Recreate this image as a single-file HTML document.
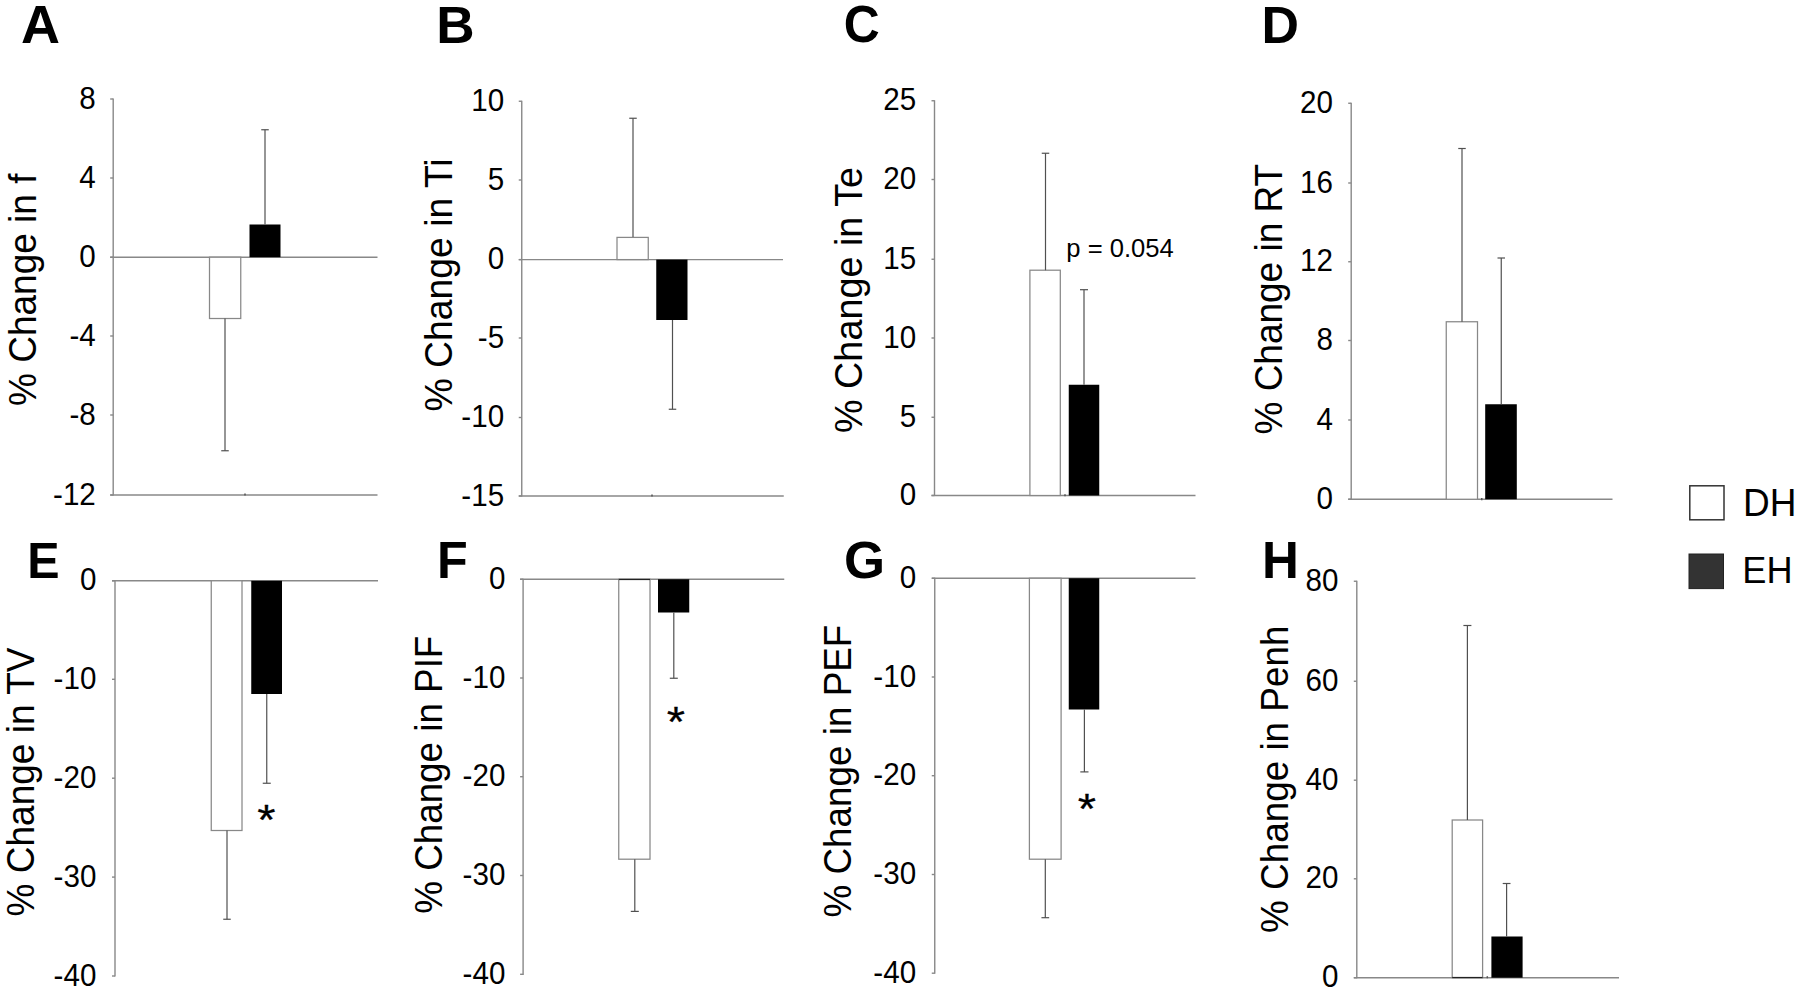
<!DOCTYPE html>
<html><head><meta charset="utf-8"><title>Figure</title>
<style>
html,body{margin:0;padding:0;background:#fff;}
body{width:1800px;height:992px;overflow:hidden;}
svg{display:block;font-family:"Liberation Sans",sans-serif;fill:#000;}
</style></head><body>
<svg width="1800" height="992" viewBox="0 0 1800 992">
<rect x="0" y="0" width="1800" height="992" fill="#fff"/>
<text transform="translate(20.95,42.70) scale(1.0806,1.0696)" font-size="50" font-weight="bold">A</text>
<line x1="113.2" y1="98.4" x2="113.2" y2="495.6" stroke="#888888" stroke-width="1.4"/>
<line x1="110.2" y1="99" x2="113.2" y2="99" stroke="#888888" stroke-width="1.4"/>
<text transform="translate(95.8,108.5) scale(1,1.04)" font-size="29.6" text-anchor="end" font-weight="normal" >8</text>
<line x1="110.2" y1="178" x2="113.2" y2="178" stroke="#888888" stroke-width="1.4"/>
<text transform="translate(95.8,187.5) scale(1,1.04)" font-size="29.6" text-anchor="end" font-weight="normal" >4</text>
<line x1="110.2" y1="257.2" x2="113.2" y2="257.2" stroke="#888888" stroke-width="1.4"/>
<text transform="translate(95.8,266.7) scale(1,1.04)" font-size="29.6" text-anchor="end" font-weight="normal" >0</text>
<line x1="110.2" y1="336" x2="113.2" y2="336" stroke="#888888" stroke-width="1.4"/>
<text transform="translate(95.8,345.5) scale(1,1.04)" font-size="29.6" text-anchor="end" font-weight="normal" >-4</text>
<line x1="110.2" y1="415" x2="113.2" y2="415" stroke="#888888" stroke-width="1.4"/>
<text transform="translate(95.8,424.5) scale(1,1.04)" font-size="29.6" text-anchor="end" font-weight="normal" >-8</text>
<line x1="110.2" y1="495" x2="113.2" y2="495" stroke="#888888" stroke-width="1.4"/>
<text transform="translate(95.8,504.5) scale(1,1.04)" font-size="29.6" text-anchor="end" font-weight="normal" >-12</text>
<line x1="110.2" y1="257.2" x2="377.5" y2="257.2" stroke="#888888" stroke-width="1.4"/>
<rect x="209.5" y="257.2" width="31.25" height="61.30000000000001" fill="#fff" stroke="#888888" stroke-width="1.25"/>
<rect x="249.5" y="224.5" width="31.0" height="32.69999999999999" fill="#000"/>
<line x1="225" y1="318.5" x2="225" y2="450.75" stroke="#505050" stroke-width="1.2"/>
<line x1="221.25" y1="450.75" x2="228.75" y2="450.75" stroke="#505050" stroke-width="1.2"/>
<line x1="265" y1="224.5" x2="265" y2="129.75" stroke="#505050" stroke-width="1.2"/>
<line x1="261.25" y1="129.75" x2="268.75" y2="129.75" stroke="#505050" stroke-width="1.2"/>
<text transform="translate(36,405.98) rotate(-90) scale(1,1.04)" font-size="37.02">% Change in f</text>
<line x1="110.2" y1="495" x2="377.5" y2="495" stroke="#888888" stroke-width="1.4"/>
<line x1="245" y1="493.6" x2="245" y2="495.4" stroke="#555" stroke-width="1.5"/>
<text transform="translate(436.35,42.70) scale(1.0623,1.0174)" font-size="50" font-weight="bold">B</text>
<line x1="521.75" y1="100.65" x2="521.75" y2="496.6" stroke="#888888" stroke-width="1.4"/>
<line x1="518.75" y1="101.25" x2="521.75" y2="101.25" stroke="#888888" stroke-width="1.4"/>
<text transform="translate(504.1,110.75) scale(1,1.04)" font-size="29.6" text-anchor="end" font-weight="normal" >10</text>
<line x1="518.75" y1="180" x2="521.75" y2="180" stroke="#888888" stroke-width="1.4"/>
<text transform="translate(504.1,189.5) scale(1,1.04)" font-size="29.6" text-anchor="end" font-weight="normal" >5</text>
<line x1="518.75" y1="259.6" x2="521.75" y2="259.6" stroke="#888888" stroke-width="1.4"/>
<text transform="translate(504.1,269.1) scale(1,1.04)" font-size="29.6" text-anchor="end" font-weight="normal" >0</text>
<line x1="518.75" y1="338" x2="521.75" y2="338" stroke="#888888" stroke-width="1.4"/>
<text transform="translate(504.1,347.5) scale(1,1.04)" font-size="29.6" text-anchor="end" font-weight="normal" >-5</text>
<line x1="518.75" y1="417.5" x2="521.75" y2="417.5" stroke="#888888" stroke-width="1.4"/>
<text transform="translate(504.1,427.0) scale(1,1.04)" font-size="29.6" text-anchor="end" font-weight="normal" >-10</text>
<line x1="518.75" y1="496" x2="521.75" y2="496" stroke="#888888" stroke-width="1.4"/>
<text transform="translate(504.1,505.5) scale(1,1.04)" font-size="29.6" text-anchor="end" font-weight="normal" >-15</text>
<line x1="518.75" y1="259.6" x2="783" y2="259.6" stroke="#888888" stroke-width="1.4"/>
<rect x="617" y="237.4" width="31.25" height="22.200000000000017" fill="#fff" stroke="#888888" stroke-width="1.25"/>
<rect x="656.25" y="259.6" width="31.25" height="60.39999999999998" fill="#000"/>
<line x1="633" y1="237" x2="633" y2="118.25" stroke="#505050" stroke-width="1.2"/>
<line x1="629.25" y1="118.25" x2="636.75" y2="118.25" stroke="#505050" stroke-width="1.2"/>
<line x1="672.5" y1="320" x2="672.5" y2="409.25" stroke="#505050" stroke-width="1.2"/>
<line x1="668.75" y1="409.25" x2="676.25" y2="409.25" stroke="#505050" stroke-width="1.2"/>
<text transform="translate(452.2,411.59) rotate(-90) scale(1,1.04)" font-size="37.35">% Change in Ti</text>
<line x1="518.75" y1="496" x2="783.75" y2="496" stroke="#888888" stroke-width="1.4"/>
<line x1="652" y1="494.6" x2="652" y2="496.4" stroke="#555" stroke-width="1.5"/>
<text transform="translate(843.81,42.48) scale(0.9969,1.0394)" font-size="50" font-weight="bold">C</text>
<line x1="934.5" y1="100.15" x2="934.5" y2="496.1" stroke="#888888" stroke-width="1.4"/>
<line x1="931.5" y1="100.75" x2="934.5" y2="100.75" stroke="#888888" stroke-width="1.4"/>
<text transform="translate(916.1,110.25) scale(1,1.04)" font-size="29.6" text-anchor="end" font-weight="normal" >25</text>
<line x1="931.5" y1="179.5" x2="934.5" y2="179.5" stroke="#888888" stroke-width="1.4"/>
<text transform="translate(916.1,189.0) scale(1,1.04)" font-size="29.6" text-anchor="end" font-weight="normal" >20</text>
<line x1="931.5" y1="259.25" x2="934.5" y2="259.25" stroke="#888888" stroke-width="1.4"/>
<text transform="translate(916.1,268.75) scale(1,1.04)" font-size="29.6" text-anchor="end" font-weight="normal" >15</text>
<line x1="931.5" y1="338" x2="934.5" y2="338" stroke="#888888" stroke-width="1.4"/>
<text transform="translate(916.1,347.5) scale(1,1.04)" font-size="29.6" text-anchor="end" font-weight="normal" >10</text>
<line x1="931.5" y1="417.25" x2="934.5" y2="417.25" stroke="#888888" stroke-width="1.4"/>
<text transform="translate(916.1,426.75) scale(1,1.04)" font-size="29.6" text-anchor="end" font-weight="normal" >5</text>
<line x1="931.5" y1="495.5" x2="934.5" y2="495.5" stroke="#888888" stroke-width="1.4"/>
<text transform="translate(916.1,505.0) scale(1,1.04)" font-size="29.6" text-anchor="end" font-weight="normal" >0</text>
<line x1="931.5" y1="495.5" x2="1195.5" y2="495.5" stroke="#888888" stroke-width="1.4"/>
<rect x="1029.9" y="270.2" width="30.399999999999864" height="225.3" fill="#fff" stroke="#888888" stroke-width="1.25"/>
<rect x="1068.75" y="384.75" width="30.5" height="110.75" fill="#000"/>
<line x1="1045.5" y1="270.2" x2="1045.5" y2="153.25" stroke="#505050" stroke-width="1.2"/>
<line x1="1041.75" y1="153.25" x2="1049.25" y2="153.25" stroke="#505050" stroke-width="1.2"/>
<line x1="1084" y1="384.75" x2="1084" y2="289.7" stroke="#505050" stroke-width="1.2"/>
<line x1="1080.0" y1="289.7" x2="1088.0" y2="289.7" stroke="#505050" stroke-width="1.2"/>
<text transform="translate(861.5,433.01) rotate(-90) scale(1,1.04)" font-size="37.79">% Change in Te</text>
<line x1="1065" y1="494.2" x2="1065" y2="496.3" stroke="#555" stroke-width="1.5"/>
<text transform="translate(1066.3,257) scale(1,1.04)" font-size="25.6" text-anchor="start" font-weight="normal" >p = 0.054</text>
<text transform="translate(1261.43,42.70) scale(1.0374,1.0261)" font-size="50" font-weight="bold">D</text>
<line x1="1351.2" y1="102.65" x2="1351.2" y2="499.85" stroke="#888888" stroke-width="1.4"/>
<line x1="1348.2" y1="103.25" x2="1351.2" y2="103.25" stroke="#888888" stroke-width="1.4"/>
<text transform="translate(1332.9,112.75) scale(1,1.04)" font-size="29.6" text-anchor="end" font-weight="normal" >20</text>
<line x1="1348.2" y1="183" x2="1351.2" y2="183" stroke="#888888" stroke-width="1.4"/>
<text transform="translate(1332.9,192.5) scale(1,1.04)" font-size="29.6" text-anchor="end" font-weight="normal" >16</text>
<line x1="1348.2" y1="261.75" x2="1351.2" y2="261.75" stroke="#888888" stroke-width="1.4"/>
<text transform="translate(1332.9,271.25) scale(1,1.04)" font-size="29.6" text-anchor="end" font-weight="normal" >12</text>
<line x1="1348.2" y1="340.5" x2="1351.2" y2="340.5" stroke="#888888" stroke-width="1.4"/>
<text transform="translate(1332.9,350.0) scale(1,1.04)" font-size="29.6" text-anchor="end" font-weight="normal" >8</text>
<line x1="1348.2" y1="420" x2="1351.2" y2="420" stroke="#888888" stroke-width="1.4"/>
<text transform="translate(1332.9,429.5) scale(1,1.04)" font-size="29.6" text-anchor="end" font-weight="normal" >4</text>
<line x1="1348.2" y1="499.25" x2="1351.2" y2="499.25" stroke="#888888" stroke-width="1.4"/>
<text transform="translate(1332.9,508.75) scale(1,1.04)" font-size="29.6" text-anchor="end" font-weight="normal" >0</text>
<line x1="1348.2" y1="499.25" x2="1612.5" y2="499.25" stroke="#888888" stroke-width="1.4"/>
<rect x="1446.25" y="321.75" width="31.25" height="177.5" fill="#fff" stroke="#888888" stroke-width="1.25"/>
<rect x="1485.2" y="404.25" width="31.59999999999991" height="95.0" fill="#000"/>
<line x1="1462" y1="321.75" x2="1462" y2="148.5" stroke="#505050" stroke-width="1.2"/>
<line x1="1458.25" y1="148.5" x2="1465.75" y2="148.5" stroke="#505050" stroke-width="1.2"/>
<line x1="1501.25" y1="404.25" x2="1501.25" y2="258" stroke="#505050" stroke-width="1.2"/>
<line x1="1497.5" y1="258" x2="1505.0" y2="258" stroke="#505050" stroke-width="1.2"/>
<text transform="translate(1282,434.48) rotate(-90) scale(1,1.04)" font-size="36.98">% Change in RT</text>
<line x1="1481.75" y1="498" x2="1481.75" y2="500.2" stroke="#555" stroke-width="1.5"/>
<text transform="translate(27.15,577.70) scale(0.9699,1.0116)" font-size="50" font-weight="bold">E</text>
<line x1="115" y1="580.1999999999999" x2="115" y2="976.6" stroke="#888888" stroke-width="1.4"/>
<line x1="112" y1="580.8" x2="115" y2="580.8" stroke="#888888" stroke-width="1.4"/>
<text transform="translate(96.4,590.3) scale(1,1.04)" font-size="29.6" text-anchor="end" font-weight="normal" >0</text>
<line x1="112" y1="679.3" x2="115" y2="679.3" stroke="#888888" stroke-width="1.4"/>
<text transform="translate(96.4,688.8) scale(1,1.04)" font-size="29.6" text-anchor="end" font-weight="normal" >-10</text>
<line x1="112" y1="778.2" x2="115" y2="778.2" stroke="#888888" stroke-width="1.4"/>
<text transform="translate(96.4,787.7) scale(1,1.04)" font-size="29.6" text-anchor="end" font-weight="normal" >-20</text>
<line x1="112" y1="877.1" x2="115" y2="877.1" stroke="#888888" stroke-width="1.4"/>
<text transform="translate(96.4,886.6) scale(1,1.04)" font-size="29.6" text-anchor="end" font-weight="normal" >-30</text>
<line x1="112" y1="976" x2="115" y2="976" stroke="#888888" stroke-width="1.4"/>
<text transform="translate(96.4,985.5) scale(1,1.04)" font-size="29.6" text-anchor="end" font-weight="normal" >-40</text>
<line x1="112" y1="580.8" x2="378" y2="580.8" stroke="#888888" stroke-width="1.4"/>
<rect x="211.25" y="580.8" width="30.75" height="249.70000000000005" fill="#fff" stroke="#888888" stroke-width="1.25"/>
<rect x="251.25" y="580.8" width="30.75" height="113.20000000000005" fill="#000"/>
<line x1="227" y1="830.5" x2="227" y2="919.25" stroke="#505050" stroke-width="1.2"/>
<line x1="223.25" y1="919.25" x2="230.75" y2="919.25" stroke="#505050" stroke-width="1.2"/>
<line x1="266.75" y1="694" x2="266.75" y2="783.25" stroke="#505050" stroke-width="1.2"/>
<line x1="262.75" y1="783.25" x2="270.75" y2="783.25" stroke="#505050" stroke-width="1.2"/>
<text transform="translate(33.5,916.48) rotate(-90) scale(1,1.04)" font-size="37.05">% Change in TV</text>
<text transform="translate(257.13,834.43) scale(1,0.91)" font-size="47" stroke="#000" stroke-width="0.3">*</text>
<text transform="translate(437.03,577.95) scale(1.0059,1.0190)" font-size="50" font-weight="bold">F</text>
<line x1="523.1" y1="578.65" x2="523.1" y2="974.9" stroke="#888888" stroke-width="1.4"/>
<line x1="520.1" y1="579.25" x2="523.1" y2="579.25" stroke="#888888" stroke-width="1.4"/>
<text transform="translate(505.4,588.75) scale(1,1.04)" font-size="29.6" text-anchor="end" font-weight="normal" >0</text>
<line x1="520.1" y1="678" x2="523.1" y2="678" stroke="#888888" stroke-width="1.4"/>
<text transform="translate(505.4,687.5) scale(1,1.04)" font-size="29.6" text-anchor="end" font-weight="normal" >-10</text>
<line x1="520.1" y1="776.7" x2="523.1" y2="776.7" stroke="#888888" stroke-width="1.4"/>
<text transform="translate(505.4,786.2) scale(1,1.04)" font-size="29.6" text-anchor="end" font-weight="normal" >-20</text>
<line x1="520.1" y1="875.5" x2="523.1" y2="875.5" stroke="#888888" stroke-width="1.4"/>
<text transform="translate(505.4,885.0) scale(1,1.04)" font-size="29.6" text-anchor="end" font-weight="normal" >-30</text>
<line x1="520.1" y1="974.3" x2="523.1" y2="974.3" stroke="#888888" stroke-width="1.4"/>
<text transform="translate(505.4,983.8) scale(1,1.04)" font-size="29.6" text-anchor="end" font-weight="normal" >-40</text>
<line x1="520.1" y1="579.25" x2="784.25" y2="579.25" stroke="#888888" stroke-width="1.4"/>
<rect x="618.75" y="579.25" width="31.25" height="279.95000000000005" fill="#fff" stroke="#888888" stroke-width="1.25"/>
<rect x="658" y="579.25" width="31.25" height="33.25" fill="#000"/>
<line x1="634.8" y1="859.2" x2="634.8" y2="911.4" stroke="#505050" stroke-width="1.2"/>
<line x1="630.8" y1="911.4" x2="638.8" y2="911.4" stroke="#505050" stroke-width="1.2"/>
<line x1="673.8" y1="612.5" x2="673.8" y2="678.25" stroke="#505050" stroke-width="1.2"/>
<line x1="669.8" y1="678.25" x2="677.8" y2="678.25" stroke="#505050" stroke-width="1.2"/>
<text transform="translate(441.8,913.77) rotate(-90) scale(1,1.04)" font-size="36.80">% Change in PIF</text>
<line x1="618.75" y1="579.5" x2="650" y2="579.5" stroke="#222" stroke-width="1.2"/>
<text transform="translate(666.84,736.03) scale(1,0.91)" font-size="47" stroke="#000" stroke-width="0.3">*</text>
<text transform="translate(843.94,577.88) scale(1.0563,1.0338)" font-size="50" font-weight="bold">G</text>
<line x1="934.75" y1="577.65" x2="934.75" y2="973.8000000000001" stroke="#888888" stroke-width="1.4"/>
<line x1="931.75" y1="578.25" x2="934.75" y2="578.25" stroke="#888888" stroke-width="1.4"/>
<text transform="translate(916.1,587.75) scale(1,1.04)" font-size="29.6" text-anchor="end" font-weight="normal" >0</text>
<line x1="931.75" y1="677" x2="934.75" y2="677" stroke="#888888" stroke-width="1.4"/>
<text transform="translate(916.1,686.5) scale(1,1.04)" font-size="29.6" text-anchor="end" font-weight="normal" >-10</text>
<line x1="931.75" y1="775.7" x2="934.75" y2="775.7" stroke="#888888" stroke-width="1.4"/>
<text transform="translate(916.1,785.2) scale(1,1.04)" font-size="29.6" text-anchor="end" font-weight="normal" >-20</text>
<line x1="931.75" y1="874.5" x2="934.75" y2="874.5" stroke="#888888" stroke-width="1.4"/>
<text transform="translate(916.1,884.0) scale(1,1.04)" font-size="29.6" text-anchor="end" font-weight="normal" >-30</text>
<line x1="931.75" y1="973.2" x2="934.75" y2="973.2" stroke="#888888" stroke-width="1.4"/>
<text transform="translate(916.1,982.7) scale(1,1.04)" font-size="29.6" text-anchor="end" font-weight="normal" >-40</text>
<line x1="931.75" y1="578.25" x2="1195.5" y2="578.25" stroke="#888888" stroke-width="1.4"/>
<rect x="1029.4" y="578.25" width="31.699999999999818" height="280.95000000000005" fill="#fff" stroke="#888888" stroke-width="1.25"/>
<rect x="1068.75" y="578.25" width="30.5" height="131.25" fill="#000"/>
<line x1="1045.3" y1="859.2" x2="1045.3" y2="917.7" stroke="#505050" stroke-width="1.2"/>
<line x1="1041.45" y1="917.7" x2="1049.1499999999999" y2="917.7" stroke="#505050" stroke-width="1.2"/>
<line x1="1084.4" y1="709.5" x2="1084.4" y2="771.9" stroke="#505050" stroke-width="1.2"/>
<line x1="1080.3000000000002" y1="771.9" x2="1088.5" y2="771.9" stroke="#505050" stroke-width="1.2"/>
<text transform="translate(850.5,917.47) rotate(-90) scale(1,1.04)" font-size="36.85">% Change in PEF</text>
<text transform="translate(1077.63,823.13) scale(1,0.91)" font-size="47" stroke="#000" stroke-width="0.3">*</text>
<text transform="translate(1261.98,577.90) scale(1.0220,1.0174)" font-size="50" font-weight="bold">H</text>
<line x1="1356.8" y1="580.65" x2="1356.8" y2="978.3000000000001" stroke="#888888" stroke-width="1.4"/>
<line x1="1353.8" y1="581.25" x2="1356.8" y2="581.25" stroke="#888888" stroke-width="1.4"/>
<text transform="translate(1338.4,590.75) scale(1,1.04)" font-size="29.6" text-anchor="end" font-weight="normal" >80</text>
<line x1="1353.8" y1="681.25" x2="1356.8" y2="681.25" stroke="#888888" stroke-width="1.4"/>
<text transform="translate(1338.4,690.75) scale(1,1.04)" font-size="29.6" text-anchor="end" font-weight="normal" >60</text>
<line x1="1353.8" y1="780.2" x2="1356.8" y2="780.2" stroke="#888888" stroke-width="1.4"/>
<text transform="translate(1338.4,789.7) scale(1,1.04)" font-size="29.6" text-anchor="end" font-weight="normal" >40</text>
<line x1="1353.8" y1="878.8" x2="1356.8" y2="878.8" stroke="#888888" stroke-width="1.4"/>
<text transform="translate(1338.4,888.3) scale(1,1.04)" font-size="29.6" text-anchor="end" font-weight="normal" >20</text>
<line x1="1353.8" y1="977.7" x2="1356.8" y2="977.7" stroke="#888888" stroke-width="1.4"/>
<text transform="translate(1338.4,987.2) scale(1,1.04)" font-size="29.6" text-anchor="end" font-weight="normal" >0</text>
<line x1="1353.8" y1="977.7" x2="1619" y2="977.7" stroke="#888888" stroke-width="1.4"/>
<rect x="1452.2" y="820" width="30.399999999999864" height="157.70000000000005" fill="#fff" stroke="#888888" stroke-width="1.25"/>
<rect x="1491.4" y="936.5" width="31.199999999999818" height="41.200000000000045" fill="#000"/>
<line x1="1467.4" y1="820" x2="1467.4" y2="625.5" stroke="#505050" stroke-width="1.2"/>
<line x1="1463.4" y1="625.5" x2="1471.4" y2="625.5" stroke="#505050" stroke-width="1.2"/>
<line x1="1506.6" y1="936.5" x2="1506.6" y2="883.5" stroke="#505050" stroke-width="1.2"/>
<line x1="1502.6999999999998" y1="883.5" x2="1510.5" y2="883.5" stroke="#505050" stroke-width="1.2"/>
<text transform="translate(1287.8,932.98) rotate(-90) scale(1,1.04)" font-size="36.88">% Change in Penh</text>
<line x1="1452.2" y1="977.5" x2="1482.6" y2="977.5" stroke="#222" stroke-width="1.2"/>
<line x1="1487.3" y1="976.2" x2="1487.3" y2="978.3" stroke="#555" stroke-width="1.5"/>
<rect x="1689.8" y="485.8" width="34.2" height="34" fill="#fff" stroke="#333" stroke-width="1.5"/>
<rect x="1689" y="554" width="34.5" height="34.6" fill="#333" stroke="#222" stroke-width="1"/>
<text transform="translate(1743,516) scale(1,1.04)" font-size="37" text-anchor="start" font-weight="normal" >DH</text>
<text transform="translate(1742.3,583.2) scale(1,1.04)" font-size="36.2" text-anchor="start" font-weight="normal" >EH</text>
</svg>
</body></html>
